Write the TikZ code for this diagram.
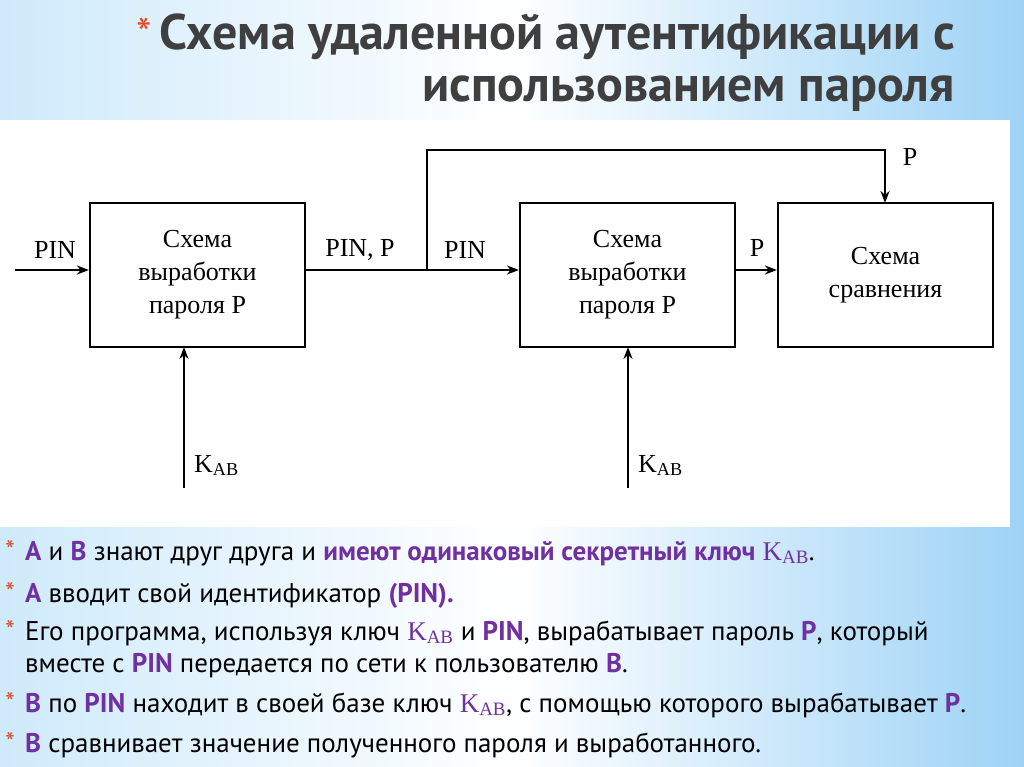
\documentclass[tikz,border=0pt]{standalone}
\usepackage{fontspec}
\setmainfont{Liberation Serif}
\newfontfamily\bsans{PT Sans}
\usetikzlibrary{arrows.meta}
\definecolor{bgL}{HTML}{CFEAFB}
\definecolor{bgR}{HTML}{9ED3F6}
\definecolor{pur}{HTML}{7030A0}
\definecolor{ast}{HTML}{E0502A}
\definecolor{ttl}{HTML}{3F3F3F}
\tikzset{
  blk/.style={draw,line width=2.2pt,minimum width=215pt,minimum height=144pt,align=center,font=\fontsize{26}{33}\selectfont},
  lbl/.style={font=\fontsize{26}{28}\selectfont,inner sep=0},
  ar/.style={line width=2.2pt,-{Stealth[length=12pt,width=9pt]}},
  bul/.style={anchor=base west,inner sep=0,font=\bsans\fontsize{27}{30}\selectfont,align=left},
  star/.style={anchor=base west,inner sep=0,text=ast,font=\bsans\fontsize{28}{28}\selectfont}
}
\newcommand{\kab}{{\rmfamily K\textsubscript{AB}}}
\newcommand{\pp}[1]{\textcolor{pur}{\textbf{#1}}}
\begin{document}
\begin{tikzpicture}[x=1pt,y=-1pt]
\useasboundingbox (0,0) rectangle (1024,767);
\shade[left color=bgL,right color=bgR,middle color=white] (0,0) rectangle (1024,767);
\fill[white] (0,120) rectangle (1010,527);
% title
\node[anchor=base east,inner sep=0,text=ttl,font=\bsans\bfseries\fontsize{50}{54}\selectfont] (t1) at (955,50) {Схема удаленной аутентификации с};
\node[anchor=base east,inner sep=0,text=ttl,font=\bsans\bfseries\fontsize{50}{54}\selectfont] (t2) at (955,102) {использованием пароля};
\node[anchor=base east,inner sep=0,text=ast,font=\bsans\fontsize{44}{44}\selectfont] (ts) at (t1.base west) {*\,};
% boxes
\node[blk] (b1) at (197.5,275) {Схема\\выработки\\пароля P};
\node[blk] (b2) at (627.5,275) {Схема\\выработки\\пароля P};
\node[blk] (b3) at (885.5,275) {Схема\\сравнения};
\coordinate (in) at (15,270);
\coordinate (br) at (427,270);
\coordinate (k1) at (184,488);
\coordinate (k2) at (628,488);
\draw[ar] (in) -- (b1.west |- in);
\draw[ar] (b1.east |- br) -- (b2.west |- br);
\draw[ar] (b2.east |- br) -- (b3.west |- br);
\draw[ar] (br) -- (427,150) -| (885,203);
\draw[ar] (k1) -- (184,347);
\draw[ar] (k2) -- (628,347);
\node[lbl] (l1) at (55,250) {PIN};
\node[lbl] (l2) at (360,250) {PIN, P};
\node[lbl] (l3) at (465,250) {PIN};
\node[lbl] (l4) at (757,248) {P};
\node[lbl] (l5) at (910,157) {P};
\node[lbl,anchor=base west] (l6) at (194,472) {K\textsubscript{AB}};
\node[lbl,anchor=base west] (l7) at (638,472) {K\textsubscript{AB}};
% bullets
\foreach \y in {560,602,640,712,752} \node[star] at (5,\y) {*};
\node[bul] (p1) at (25,560) {\pp{A} и \pp{B} знают друг друга и \pp{имеют одинаковый секретный ключ} \textcolor{pur}{\kab}.};
\node[bul] (p2) at (25,602) {\pp{A} вводит свой идентификатор \pp{(PIN).}};
\node[bul] (p3) at (25,640) {Его программа, используя ключ \textcolor{pur}{\kab} и \pp{PIN}, вырабатывает пароль \pp{P}, который};
\node[bul] (p4) at (25,672) {вместе с \pp{PIN} передается по сети к пользователю \pp{B}.};
\node[bul] (p5) at (25,712) {\pp{B} по \pp{PIN} находит в своей базе ключ \textcolor{pur}{\kab}, с помощью которого вырабатывает \pp{P}.};
\node[bul] (p6) at (25,752) {\pp{B} сравнивает значение полученного пароля и выработанного.};
\end{tikzpicture}
\end{document}
